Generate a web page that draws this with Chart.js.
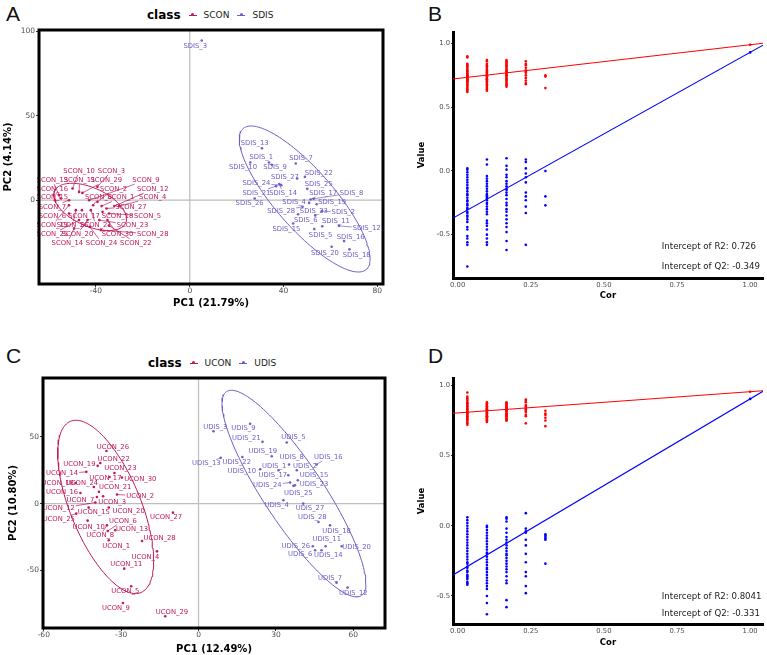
<!DOCTYPE html>
<html>
<head>
<meta charset="utf-8">
<script src="https://cdn.jsdelivr.net/npm/chart.js@4/dist/chart.umd.min.js"></script>
<style>
  body { margin: 0; background: #fff; width: 767px; height: 655px; position: relative; overflow: hidden; font-family: 'DejaVu Sans', sans-serif; }
  canvas { position: absolute; }
  .letter { position: absolute; font-family: 'Liberation Sans', Arial, sans-serif; font-size: 21px; line-height: 1; color: #111; }
  .legend { position: absolute; display: flex; align-items: center; height: 16px; white-space: nowrap; }
  .lt { font-weight: bold; font-size: 12px; margin-right: 8px; }
  .key { width: 8px; height: 1px; background: var(--c); position: relative; margin-right: 7px; }
  .key::after { content: ''; position: absolute; left: 2.5px; top: -1.5px; width: 3px; height: 3px; border-radius: 50%; background: var(--c); }
  .ln { font-size: 9px; color: #222; margin-right: 8px; }
</style>
</head>
<body>

<div class="letter" style="left:6px;top:3px">A</div>
<div class="letter" style="left:428px;top:3px">B</div>
<div class="letter" style="left:6px;top:345px">C</div>
<div class="letter" style="left:428px;top:345px">D</div>

<div class="legend" style="left:147px;top:7px">
  <span class="lt">class</span>
  <span class="key" style="--c:#c0185a"></span><span class="ln">SCON</span>
  <span class="key" style="--c:#6b5fc8"></span><span class="ln">SDIS</span>
</div>
<div class="legend" style="left:148px;top:355px">
  <span class="lt">class</span>
  <span class="key" style="--c:#c0185a"></span><span class="ln">UCON</span>
  <span class="key" style="--c:#6b5fc8"></span><span class="ln">UDIS</span>
</div>

<canvas id="pcaA" width="400" height="320" style="left:0;top:0"></canvas>
<canvas id="permB" width="367" height="320" style="left:400px;top:0"></canvas>
<canvas id="pcaC" width="400" height="335" style="left:0;top:320px"></canvas>
<canvas id="permD" width="367" height="335" style="left:400px;top:320px"></canvas>

<script>
// ---------- Panel A : PCA, SCON vs SDIS ----------
const sconNames = ['SCON_10','SCON_3','SCON_13','SCON_11','SCON_29','SCON_9','SCON_16','SCON_2','SCON_12','SCON_15',
  'SCON_8','SCON_1','SCON_4','SCON_7','SCON_27','SCON_6','SCON_17','SCON_18','SCON_5','SCON_19',
  'SCON_26','SCON_21','SCON_23','SCON_25','SCON_20','SCON_30','SCON_28','SCON_14','SCON_24','SCON_22'];
const sconPC1 = [-50,-39.4,-55.7,-47.2,-45.8,-42.9,-55,-39.4,-32.2,-57.5,-41.2,-37.6,-30.1,-51.5,-35.5,-51.5,-46,-37.2,-34.4,-51.5,
  -48.6,-42.2,-38.6,-47.2,-43.6,-35.1,-37.9,-49.3,-42.6,-34.5];
const sconPC2 = [6.9,7.9,3,4.9,4.3,0,1,-1,-3.5,0,-3,-3.5,-3.5,0,-4.9,-7.9,-5.9,-6.9,-7.9,-3,
  -5.9,-5.9,-11.8,-11.8,-11.8,-11.8,-17.7,-16.7,-15.8,-15];
const sconLabPC1 = [-47.2,-33.4,-58.6,-47,-35.6,-18.7,-58.6,-32.5,-15.8,-58.6,-38.9,-29.4,-15.8,-58.6,-25.1,-58.6,-45.1,-30.8,-18,-58.6,
  -50,-40,-24.4,-58.6,-47.9,-30.8,-15.8,-52.2,-37.6,-23];
const sconLabPC2 = [17.3,17.3,11.8,11.8,11.8,11.8,6.5,6.5,6.5,1.6,1.6,1.6,1.6,-3.9,-3.9,-9.3,-9.3,-9.3,-9.3,-14.8,
  -14.8,-14.8,-14.8,-20.1,-20.1,-20.1,-20.1,-25.2,-25.2,-25.2];

const sdisNames = ['SDIS_3','SDIS_13','SDIS_1','SDIS_10','SDIS_9','SDIS_7','SDIS_27','SDIS_22','SDIS_24','SDIS_21',
  'SDIS_14','SDIS_25','SDIS_26','SDIS_17','SDIS_8','SDIS_4','SDIS_19','SDIS_28','SDIS_23','SDIS_2',
  'SDIS_6','SDIS_11','SDIS_12','SDIS_15','SDIS_5','SDIS_16','SDIS_20','SDIS_18'];
const sdisPC1 = [5.1,30.8,33.8,25.8,35,45.2,45.8,49.1,39,36.8,38.2,50.1,27.7,51.5,52.8,50.9,54.1,48.1,53.5,56.3,
  46.2,56.5,63.6,44.1,53.1,65.8,60.5,68.1];
const sdisPC2 = [94.5,30.7,22.3,22.3,21,21.7,12.8,13.8,8.9,8.3,9.5,6.7,1,0.4,0.8,-1.6,-2.4,-3.9,-9,-6.5,
  -8.3,-15.4,-15.2,-13.8,-17.1,-24.2,-27.6,-29.1];
const sdisLabPC1 = [2.3,27.7,30.5,22.7,36.4,47.4,40.6,55,28.4,28.4,39.8,55,25.5,56.9,69,44.5,60.7,39,52.9,65.5,
  49.5,62.3,75.4,41.2,55.8,68.6,57.6,71.2];
const sdisLabPC2 = [91,33.5,25.2,19.3,19.3,24.6,13.8,16.1,9.8,4.3,4.3,9.4,-1.6,4.3,4.3,-1,-1,-6.3,-6.5,-6.9,
  -11.8,-12.2,-16.7,-17.1,-20.7,-21.7,-31.1,-32.5];

// ellipses: [centre PC1, centre PC2, half range PC1, half range PC2, correlation]
const sconEllipse = [-42.5, -4, 15.5, 14, -0.5];
const sdisEllipse = [49, 0.7, 27.9, 43.2, -0.82];

const xTicksA = [-40, 0, 40, 80];
const yTicksA = [0, 50, 100];

// ---------- Panel C : PCA, UCON vs UDIS ----------
const uconNames = ['UCON_26','UCON_22','UCON_19','UCON_23','UCON_14','UCON_17','UCON_30','UCON_18','UCON_24','UCON_21',
  'UCON_16','UCON_2','UCON_7','UCON_3','UCON_12','UCON_25','UCON_15','UCON_20','UCON_27','UCON_6',
  'UCON_10','UCON_13','UCON_8','UCON_1','UCON_28','UCON_4','UCON_11','UCON_5','UCON_9','UCON_29'];
const uconPC1 = [-35.7,-38.1,-39.1,-32.6,-43.5,-34.5,-29.7,-47.7,-40.6,-38.6,-45.8,-31.6,-39.4,-37,-40,-47.4,-42.6,-34.8,-9.9,-35.2,
  -43,-32.3,-35.5,-34.8,-21.9,-16.1,-28.8,-26.1,-29.3,-12.9];
const uconPC2 = [39.5,30.5,28.3,23,23.8,20,19.5,15.5,12.5,8.8,8,6.8,5,5.5,0.8,-7.5,-3,-3,-6.8,-20.5,
  -12.8,-20,-16.3,-27.5,-28,-35.8,-48.8,-62,-74.5,-84.5];
const uconLabPC1 = [-33.2,-32.9,-46.2,-30.3,-52.9,-36.1,-22.6,-54.6,-45.2,-32.3,-52.9,-22.6,-45.8,-33.5,-54.2,-54.2,-40.6,-27.1,-12.6,-29.3,
  -42.6,-25.8,-38.1,-31.9,-15.1,-20.6,-28,-28.4,-32,-10.3];
const uconLabPC2 = [42.5,33,29.3,26.3,22.5,18.8,18.5,15.5,15.5,12.5,8.8,5.8,2.3,1.3,-3.8,-11.8,-6.3,-5.5,-10,-13,
  -17.5,-19.5,-23.8,-32,-26.3,-40,-45.5,-65.8,-78.3,-81.3];

const udisNames = ['UDIS_3','UDIS_9','UDIS_21','UDIS_5','UDIS_19','UDIS_13','UDIS_22','UDIS_8','UDIS_16','UDIS_1',
  'UDIS_2','UDIS_10','UDIS_17','UDIS_15','UDIS_24','UDIS_23','UDIS_25','UDIS_4','UDIS_27','UDIS_28',
  'UDIS_18','UDIS_11','UDIS_20','UDIS_26','UDIS_6','UDIS_14','UDIS_7','UDIS_12'];
const udisPC1 = [5.8,20,24.8,34.2,28.4,8.6,17,35.1,45.8,31,38.1,23.9,34.8,38.5,35.5,37.4,36.8,32.9,40.6,46.5,
  51,49.3,55.5,44.3,45.2,47.7,53.5,57.8];
const udisPC2 = [54.3,59.8,46.3,45.8,35.5,34.3,35,29.3,29.3,25,25,25.8,21.3,17.5,15.8,13.8,13.3,2.5,0,-13.8,
  -16.3,-32,-32,-32,-35,-35,-59.3,-63];
const udisLabPC1 = [6.5,17.4,18.5,36.8,24.9,3,14.8,36.1,50.3,29.3,41.3,16.8,28.8,44.8,26.7,44.8,38.7,30.3,43.2,44.1,
  53.5,49.7,61.3,37.7,39.4,50.3,51,60];
const udisLabPC2 = [57.5,56.3,49.3,49.5,39.3,30,30.8,35,35,28.3,28.3,24.3,21,21.3,13.8,14.5,8,-1.3,-3.8,-10.5,
  -20.5,-27,-32.5,-31.8,-38.3,-38.8,-55.8,-67];

const uconEllipse = [-36, -2.5, 18.6, 65, -0.62];
const udisEllipse = [37, 7.5, 27.9, 77.5, -0.87];

const xTicksC = [-60, -30, 0, 30, 60];
const yTicksC = [-50, 0, 50];

// ---------- Panels B and D : permutation tests ----------
const permCor = [0.033, 0.1, 0.167, 0.233, 0.3];
const r2PermB = [
  [0.90,0.89,0.84,0.83,0.82,0.81,0.80,0.79,0.78,0.78,0.77,0.76,0.76,0.75,0.75,0.74,0.74,0.73,0.73,0.72,0.72,0.71,0.71,0.70,0.70,0.69,0.68,0.67,0.66,0.65,0.64,0.63,0.62],
  [0.87,0.86,0.84,0.83,0.82,0.81,0.80,0.79,0.78,0.77,0.77,0.76,0.75,0.75,0.74,0.74,0.73,0.72,0.72,0.71,0.70,0.70,0.69,0.68,0.67,0.66,0.65,0.64,0.63],
  [0.87,0.86,0.85,0.84,0.83,0.82,0.81,0.80,0.79,0.78,0.78,0.77,0.76,0.75,0.75,0.74,0.73,0.72,0.71,0.70,0.69,0.68,0.67,0.66],
  [0.86,0.84,0.83,0.81,0.79,0.78,0.77,0.75,0.73,0.71,0.69,0.68],
  [0.75,0.74,0.65]
];
const q2PermB = [
  [0.02,0.01,-0.01,-0.03,-0.05,-0.07,-0.09,-0.11,-0.13,-0.14,-0.16,-0.18,-0.19,-0.21,-0.23,-0.24,-0.26,-0.27,-0.29,-0.30,-0.32,-0.33,-0.35,-0.36,-0.38,-0.40,-0.44,-0.46,-0.51,-0.53,-0.56,-0.58,-0.75],
  [0.09,0.05,-0.04,-0.06,-0.08,-0.10,-0.12,-0.14,-0.16,-0.18,-0.19,-0.20,-0.21,-0.22,-0.23,-0.25,-0.26,-0.28,-0.30,-0.32,-0.34,-0.39,-0.41,-0.43,-0.46,-0.50,-0.53,-0.56,-0.58],
  [0.10,0.04,0.01,-0.03,-0.05,-0.08,-0.10,-0.12,-0.14,-0.15,-0.17,-0.19,-0.22,-0.25,-0.27,-0.30,-0.32,-0.35,-0.38,-0.41,-0.44,-0.48,-0.55,-0.62],
  [0.09,0.07,0.02,-0.02,-0.05,-0.09,-0.17,-0.20,-0.23,-0.28,-0.33,-0.58],
  [0.00,-0.20,-0.27]
];
const r2OrigB = 0.99, q2OrigB = 0.93;
const r2InterceptB = 0.726, q2InterceptB = -0.349;

const r2PermD = [
  [0.95,0.92,0.91,0.90,0.89,0.88,0.87,0.87,0.86,0.85,0.85,0.84,0.83,0.83,0.82,0.81,0.81,0.80,0.80,0.79,0.78,0.78,0.77,0.76,0.76,0.75,0.74,0.73,0.72],
  [0.88,0.87,0.87,0.86,0.86,0.85,0.85,0.84,0.84,0.83,0.83,0.82,0.82,0.81,0.81,0.80,0.80,0.79,0.79,0.78,0.78,0.77,0.77,0.76,0.76,0.75,0.75,0.74],
  [0.88,0.87,0.87,0.86,0.85,0.85,0.84,0.84,0.83,0.83,0.82,0.82,0.81,0.80,0.80,0.79,0.79,0.78,0.78,0.77,0.76,0.76,0.75,0.75],
  [0.90,0.89,0.88,0.86,0.85,0.84,0.83,0.82,0.81,0.79,0.78,0.73],
  [0.82,0.80,0.79,0.77,0.75,0.71]
];
const q2PermD = [
  [0.06,0.04,0.02,0.00,-0.02,-0.04,-0.06,-0.08,-0.10,-0.12,-0.14,-0.16,-0.18,-0.20,-0.22,-0.24,-0.26,-0.27,-0.29,-0.30,-0.32,-0.33,-0.35,-0.36,-0.37,-0.38,-0.40,-0.41,-0.42],
  [0.00,-0.01,-0.03,-0.05,-0.07,-0.09,-0.11,-0.13,-0.15,-0.17,-0.19,-0.20,-0.22,-0.24,-0.26,-0.28,-0.30,-0.31,-0.33,-0.35,-0.37,-0.39,-0.41,-0.43,-0.45,-0.50,-0.55,-0.63],
  [0.06,0.05,0.03,-0.02,-0.05,-0.08,-0.10,-0.12,-0.14,-0.16,-0.18,-0.20,-0.21,-0.23,-0.25,-0.27,-0.29,-0.31,-0.33,-0.36,-0.39,-0.41,-0.53,-0.58],
  [0.09,-0.02,-0.04,-0.05,-0.10,-0.14,-0.20,-0.26,-0.33,-0.36,-0.43,-0.48],
  [-0.06,-0.07,-0.08,-0.09,-0.10,-0.27]
];
const r2OrigD = 0.955, q2OrigD = 0.904;
const r2InterceptD = 0.8041, q2InterceptD = -0.331;

const permXTicks = [0, 0.25, 0.5, 0.75, 1];
const permYTicks = [-0.5, 0, 0.5, 1];

// ---------- helpers ----------
const FONT = "'DejaVu Sans', sans-serif";
const CON_COLOR = '#c0185a';
const DIS_COLOR = '#6b5fc8';
Chart.defaults.font.family = FONT;
Chart.defaults.animation = false;

function toPoints(xs, ys) { return xs.map((x, i) => ({ x: x, y: ys[i] })); }

// outline of a confidence ellipse, in data units
function ellipsePoints(e) {
  const pts = [];
  const k = Math.sqrt(1 - e[4] * e[4]);
  for (let i = 0; i <= 144; i++) {
    const t = i / 144 * 2 * Math.PI;
    pts.push({ x: e[0] + e[2] * Math.cos(t), y: e[1] + e[3] * (e[4] * Math.cos(t) + k * Math.sin(t)) });
  }
  return pts;
}

// zero lines + thick panel border
const panelBox = {
  id: 'panelBox',
  beforeDatasetsDraw(chart) {
    const { ctx, chartArea: a, scales: { x, y } } = chart;
    const x0 = x.getPixelForValue(0), y0 = y.getPixelForValue(0);
    ctx.save();
    ctx.strokeStyle = '#bdbdbd';
    ctx.lineWidth = 1.2;
    ctx.beginPath();
    ctx.moveTo(x0, a.top); ctx.lineTo(x0, a.bottom);
    ctx.moveTo(a.left, y0); ctx.lineTo(a.right, y0);
    ctx.stroke();
    ctx.restore();
  },
  afterDraw(chart) {
    const { ctx, chartArea: a } = chart;
    ctx.save();
    ctx.strokeStyle = '#000';
    ctx.lineWidth = 3;
    ctx.strokeRect(a.left, a.top, a.right - a.left, a.bottom - a.top);
    ctx.restore();
  }
};

// sample names with leader segments (like ggrepel)
function labelPlugin(groups) {
  return {
    id: 'sampleLabels',
    afterDatasetsDraw(chart) {
      const { ctx, scales: { x, y } } = chart;
      ctx.save();
      ctx.font = '6.8px ' + FONT;
      ctx.textAlign = 'center';
      ctx.textBaseline = 'middle';
      groups.forEach(g => {
        g.names.forEach((name, i) => {
          const px = x.getPixelForValue(g.px[i]), py = y.getPixelForValue(g.py[i]);
          const lx = x.getPixelForValue(g.lx[i]), ly = y.getPixelForValue(g.ly[i]);
          const hw = ctx.measureText(name).width / 2 + 1, hh = 4;
          const dx = px - lx, dy = py - ly;
          const t = Math.min(dx ? hw / Math.abs(dx) : Infinity, dy ? hh / Math.abs(dy) : Infinity);
          if (t < 1) {
            const ex = lx + dx * t, ey = ly + dy * t;
            if (Math.hypot(px - ex, py - ey) > 4) {
              ctx.strokeStyle = g.color;
              ctx.lineWidth = 0.7;
              ctx.beginPath(); ctx.moveTo(ex, ey); ctx.lineTo(px, py); ctx.stroke();
            }
          }
          ctx.fillStyle = g.color;
          ctx.fillText(name, lx, ly);
        });
      });
      ctx.restore();
    }
  };
}

function pcaChart(id, p) {
  return new Chart(document.getElementById(id), {
    type: 'scatter',
    data: {
      datasets: [
        { data: ellipsePoints(p.conEllipse), showLine: true, pointRadius: 0, borderColor: CON_COLOR, borderWidth: 1 },
        { data: ellipsePoints(p.disEllipse), showLine: true, pointRadius: 0, borderColor: DIS_COLOR, borderWidth: 1 },
        { data: toPoints(p.con.px, p.con.py), pointRadius: 1.3, backgroundColor: CON_COLOR, borderWidth: 0 },
        { data: toPoints(p.dis.px, p.dis.py), pointRadius: 1.3, backgroundColor: DIS_COLOR, borderWidth: 0 }
      ]
    },
    options: {
      responsive: false,
      layout: { padding: p.padding },
      plugins: { legend: { display: false }, tooltip: { enabled: false } },
      scales: {
        x: {
          type: 'linear', min: p.xMin, max: p.xMax,
          afterBuildTicks: s => { s.ticks = p.xTicks.map(v => ({ value: v })); },
          afterFit: s => { s.height = p.xAxisH; },
          grid: { drawOnChartArea: false, tickLength: 3, color: '#333' },
          border: { display: false },
          ticks: { font: { size: 7.5 }, color: '#4d4d4d', padding: 0, maxRotation: 0 },
          title: { display: true, text: p.xTitle, color: '#000', font: { size: 10, weight: 'bold' }, padding: { top: 0, bottom: p.xTitlePad } }
        },
        y: {
          type: 'linear', min: p.yMin, max: p.yMax,
          afterBuildTicks: s => { s.ticks = p.yTicks.map(v => ({ value: v })); },
          afterFit: s => { s.width = p.yAxisW; },
          grid: { drawOnChartArea: false, tickLength: 3, color: '#333' },
          border: { display: false },
          ticks: { font: { size: 7.5 }, color: '#4d4d4d', padding: 1 },
          title: { display: true, text: p.yTitle, color: '#000', font: { size: 10, weight: 'bold' }, padding: { top: p.yTitlePad, bottom: 0 } }
        }
      }
    },
    plugins: [panelBox, labelPlugin([
      { names: p.con.names, px: p.con.px, py: p.con.py, lx: p.con.lx, ly: p.con.ly, color: CON_COLOR },
      { names: p.dis.names, px: p.dis.px, py: p.dis.py, lx: p.dis.lx, ly: p.dis.ly, color: DIS_COLOR }
    ])]
  });
}

function permPoints(cols) {
  const pts = [];
  cols.forEach((vals, i) => vals.forEach(v => pts.push({ x: permCor[i], y: v })));
  return pts;
}

function permChart(id, p) {
  const xMin = -0.016, xMax = 1.044;
  const fitLine = (b, orig) => [{ x: xMin, y: b + (orig - b) * xMin }, { x: xMax, y: b + (orig - b) * xMax }];
  const notes = {
    id: 'intercepts',
    afterDraw(chart) {
      const { ctx, scales: { x, y } } = chart;
      ctx.save();
      ctx.font = '8.6px ' + FONT;
      ctx.fillStyle = '#1a1a1a';
      ctx.textAlign = 'left';
      ctx.textBaseline = 'middle';
      ctx.fillText('Intercept of R2: ' + p.r2Int, x.getPixelForValue(0.698), y.getPixelForValue(p.noteY[0]));
      ctx.fillText('Intercept of Q2: ' + p.q2Int, x.getPixelForValue(0.698), y.getPixelForValue(p.noteY[1]));
      ctx.restore();
    }
  };
  return new Chart(document.getElementById(id), {
    type: 'scatter',
    data: {
      datasets: [
        { data: permPoints(p.r2).concat([{ x: 1, y: p.r2Orig }]), pointRadius: 1.3, backgroundColor: '#ff0000', borderWidth: 0 },
        { data: permPoints(p.q2).concat([{ x: 1, y: p.q2Orig }]), pointRadius: 1.3, backgroundColor: '#0000ff', borderWidth: 0 },
        { data: fitLine(p.r2Int, p.r2Orig), showLine: true, pointRadius: 0, borderColor: '#ff0000', borderWidth: 1.1 },
        { data: fitLine(p.q2Int, p.q2Orig), showLine: true, pointRadius: 0, borderColor: '#0000ff', borderWidth: 1.1 }
      ]
    },
    options: {
      responsive: false,
      layout: { padding: p.padding },
      plugins: { legend: { display: false }, tooltip: { enabled: false } },
      scales: {
        x: {
          type: 'linear', min: xMin, max: xMax,
          afterBuildTicks: s => { s.ticks = permXTicks.map(v => ({ value: v })); },
          afterFit: s => { s.height = p.xAxisH; },
          grid: { drawOnChartArea: false, tickLength: 2, color: '#333' },
          border: { display: true, color: '#000', width: 3 },
          ticks: { font: { size: 6.8 }, color: '#4d4d4d', padding: 1, maxRotation: 0, callback: v => v.toFixed(2) },
          title: { display: true, text: 'Cor', color: '#000', font: { size: 8.5, weight: 'bold' }, padding: { top: 0, bottom: p.xTitlePad } }
        },
        y: {
          type: 'linear', min: p.yMin, max: p.yMax,
          afterBuildTicks: s => { s.ticks = permYTicks.map(v => ({ value: v })); },
          afterFit: s => { s.width = 53; },
          grid: { drawOnChartArea: false, tickLength: 2, color: '#333' },
          border: { display: true, color: '#000', width: 3 },
          ticks: { font: { size: 6.8 }, color: '#4d4d4d', padding: 1, callback: v => v.toFixed(1) },
          title: { display: true, text: 'Value', color: '#000', font: { size: 8.5, weight: 'bold' }, padding: { top: 17, bottom: 0 } }
        }
      }
    },
    plugins: [notes]
  });
}

// ---------- build the four panels ----------
pcaChart('pcaA', {
  con: { names: sconNames, px: sconPC1, py: sconPC2, lx: sconLabPC1, ly: sconLabPC2 },
  dis: { names: sdisNames, px: sdisPC1, py: sdisPC2, lx: sdisLabPC1, ly: sdisLabPC2 },
  conEllipse: sconEllipse, disEllipse: sdisEllipse,
  xMin: -64.3, xMax: 82.4, yMin: -49.6, yMax: 100.7,
  xTicks: xTicksA, yTicks: yTicksA,
  xTitle: 'PC1 (21.79%)', yTitle: 'PC2 (4.14%)',
  padding: { top: 30, right: 17, left: 0, bottom: 0 },
  xAxisH: 36, yAxisW: 39, xTitlePad: 11, yTitlePad: 2
});

pcaChart('pcaC', {
  con: { names: uconNames, px: uconPC1, py: uconPC2, lx: uconLabPC1, ly: uconLabPC2 },
  dis: { names: udisNames, px: udisPC1, py: udisPC2, lx: udisLabPC1, ly: udisLabPC2 },
  conEllipse: uconEllipse, disEllipse: udisEllipse,
  xMin: -60.3, xMax: 72.3, yMin: -93.3, yMax: 94.2,
  xTicks: xTicksC, yTicks: yTicksC,
  xTitle: 'PC1 (12.49%)', yTitle: 'PC2 (10.80%)',
  padding: { top: 58, right: 15, left: 0, bottom: 0 },
  xAxisH: 27, yAxisW: 43, xTitlePad: 0, yTitlePad: 7
});

permChart('permB', {
  r2: r2PermB, q2: q2PermB, r2Orig: r2OrigB, q2Orig: q2OrigB,
  r2Int: r2InterceptB, q2Int: q2InterceptB,
  yMin: -0.84, yMax: 1.09, noteY: [-0.596, -0.75],
  padding: { top: 32, right: 4, left: 0, bottom: 0 },
  xAxisH: 42, xTitlePad: 19
});

permChart('permD', {
  r2: r2PermD, q2: q2PermD, r2Orig: r2OrigD, q2Orig: q2OrigD,
  r2Int: r2InterceptD, q2Int: q2InterceptD,
  yMin: -0.70, yMax: 1.053, noteY: [-0.506, -0.63],
  padding: { top: 58, right: 4, left: 0, bottom: 0 },
  xAxisH: 31, xTitlePad: 7
});
</script>
</body>
</html>
